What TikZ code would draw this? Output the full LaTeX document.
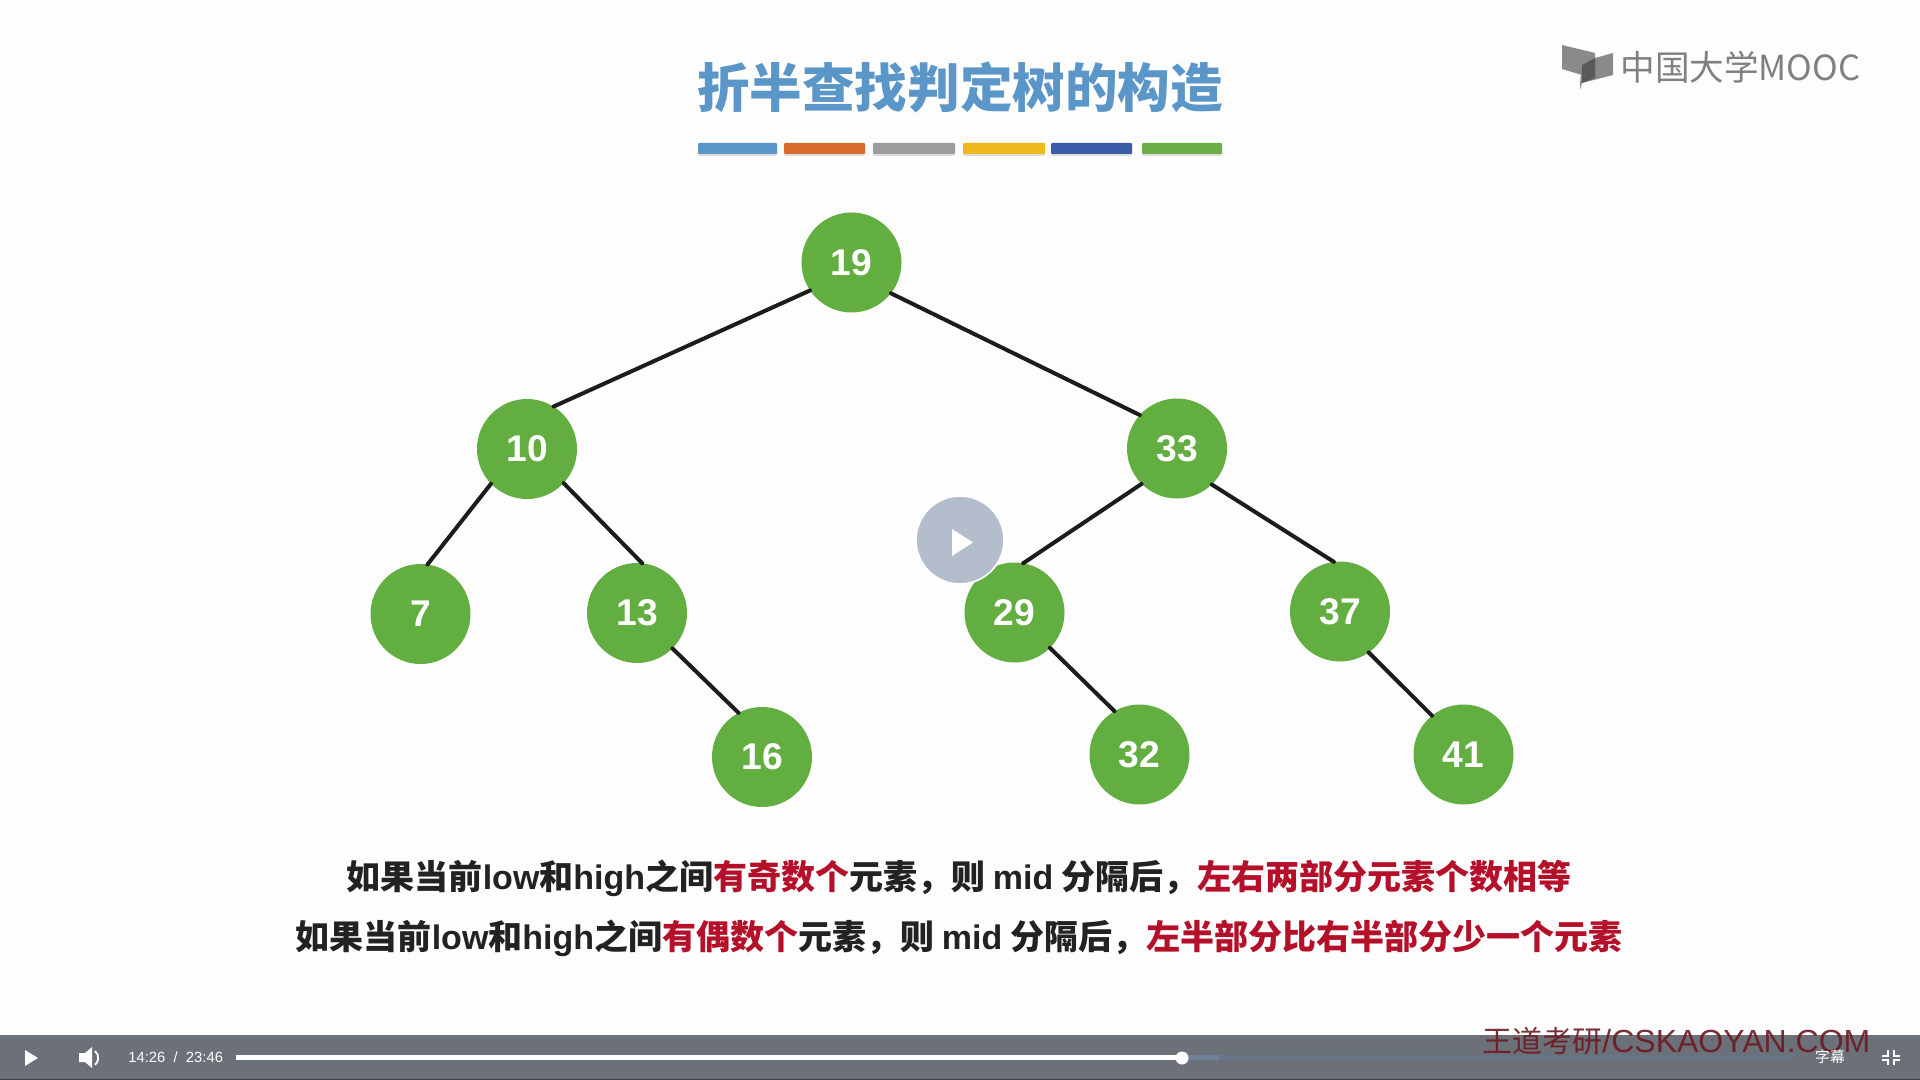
\documentclass[tikz,border=0pt]{standalone}
\usepackage{fontspec}
\setmainfont{Liberation Sans}
\newfontfamily\cjk{Noto Sans CJK SC}
\definecolor{pagebg}{HTML}{FEFDFE}
\definecolor{treegreen}{HTML}{62AE41}
\definecolor{titleblue}{HTML}{5B96C9}
\definecolor{barorange}{HTML}{D86B2C}
\definecolor{bargray}{HTML}{9C9C9C}
\definecolor{baryellow}{HTML}{EEB91A}
\definecolor{bardblue}{HTML}{3A5CA8}
\definecolor{bargreen}{HTML}{6CAE45}
\definecolor{edgeink}{HTML}{1C1C1C}
\definecolor{keyred}{HTML}{B5102A}
\definecolor{textink}{HTML}{222222}
\definecolor{ctrlbar}{HTML}{6B7079}
\definecolor{bufferbar}{HTML}{667488}
\definecolor{bufferbright}{HTML}{71809A}
\definecolor{playdisc}{HTML}{B3BDCB}
\definecolor{logogray}{HTML}{8A8A8A}
\definecolor{markred}{HTML}{6E1A22}
\newcommand{\kred}[1]{\textcolor{keyred}{#1}}
\tikzset{
  x=0.5pt, y=-0.5pt,
  treenode/.style={circle, fill=treegreen, text=white, minimum size=50pt, inner sep=0pt, outer sep=0pt, font=\fontsize{18.6}{20}\selectfont\bfseries},
  treeedge/.style={draw=edgeink, line width=2pt, line cap=round},
  bodyline/.style={inner sep=0pt, text=textink, font=\fontsize{17}{20}\selectfont\bfseries\cjk},
}
\begin{document}
\begin{tikzpicture}
\useasboundingbox (0,0) rectangle (1920,1080);
\fill[pagebg] (0,0) rectangle (1920,1080);

% title
\node[inner sep=0pt, text=titleblue, font=\fontsize{26.3}{30}\selectfont\cjk\bfseries] (title) at (960,87) {折半查找判定树的构造};
\foreach \n/\xa/\xb/\c in {a/698/777/titleblue,b/784/865/barorange,c/873/955/bargray,d/963/1045/baryellow,e/1051/1132/bardblue,f/1142/1222/bargreen}{
  \fill[black!14, rounded corners=0.8pt] (\xa,145) rectangle (\xb,156);
  \fill[\c, rounded corners=0.5pt] (\xa,143) rectangle (\xb,154);
}

% logo
\fill[logogray] (1562,45) -- (1595,53) -- (1595,58) -- (1582,65) -- (1582,75) -- (1562,69) -- cycle;
\fill[logogray] (1595,58) -- (1613,53) -- (1613,75) -- (1582,83) -- (1580,90) -- (1580,83) -- (1582,65) -- cycle;
\fill[black!65] (1582,65) -- (1595,58) -- (1595,78) -- (1582,83) -- cycle;
\node[inner sep=0pt, text=black!50, anchor=west, font=\fontsize{17.3}{20}\selectfont\cjk] (logo) at (1620,67) {中国大学MOOC};

% tree
\node[treenode] (n19) at (851.5,262.5) {19};
\node[treenode] (n10) at (527,449) {10};
\node[treenode] (n33) at (1177,448.5) {33};
\node[treenode] (n7) at (420.5,614) {7};
\node[treenode] (n13) at (637,613) {13};
\node[treenode] (n29) at (1014.5,612.5) {29};
\node[treenode] (n37) at (1340,611.5) {37};
\node[treenode] (n16) at (762,757) {16};
\node[treenode] (n32) at (1139.5,754.5) {32};
\node[treenode] (n41) at (1463.5,754.5) {41};
\draw[treeedge] (n19.214) -- (n10.58);
\draw[treeedge] (n19.-38) -- (n33.138);
\draw[treeedge] (n10.224) -- (n7.82);
\draw[treeedge] (n10.-43) -- (n13.84);
\draw[treeedge] (n33.225) -- (n29.80);
\draw[treeedge] (n33.-46) -- (n37.97);
\draw[treeedge] (n13.-45) -- (n16.118);
\draw[treeedge] (n29.-45) -- (n32.120);
\draw[treeedge] (n37.-55) -- (n41.129);

% body text
\node[bodyline] (line1) at (959,878) {如果当前{\rmfamily low}和{\rmfamily high}之间\kred{有奇数个}元素，则 {\rmfamily mid} 分隔后，\kred{左右两部分元素个数相等}};
\node[bodyline] (line2) at (959,938) {如果当前{\rmfamily low}和{\rmfamily high}之间\kred{有偶数个}元素，则 {\rmfamily mid} 分隔后，\kred{左半部分比右半部分少一个元素}};

% play overlay
\node[circle, fill=playdisc, draw=white, line width=0.8pt, minimum size=44pt, inner sep=0pt, outer sep=0pt] (playbtn) at (960,540) {};
\fill[white] (952,529) -- (973,542.5) -- (952,556) -- cycle;

% control bar
\fill[ctrlbar] (0,1035) rectangle (1920,1079);
\fill[black!75] (0,1079) rectangle (1920,1080);
\fill[white] (25,1050) -- (38,1058) -- (25,1066) -- cycle;
\fill[white] (79,1053) -- (85,1053) -- (92,1047) -- (92,1068) -- (85,1062) -- (79,1062) -- cycle;
\draw[white, line width=0.9pt] (95,1051) arc[start angle=-50, end angle=50, radius=9];
\node[inner sep=0pt, text=white, anchor=west, font=\fontsize{7.4}{9}\selectfont] (timecode) at (128,1057.5) {14:26\ \ /\ \ 23:46};
\fill[bufferbar] (1182,1055) rectangle (1793,1060);
\fill[bufferbright] (1182,1055) rectangle (1219,1060);
\fill[white] (236,1055) rectangle (1182,1060);
\fill[white] (1182,1058) circle[radius=6.5];
\node[inner sep=0pt, anchor=west, text=markred, opacity=0.9, font=\fontsize{15}{16}\selectfont\cjk] (mark) at (1482,1041.5) {王道考研{\fontsize{16}{16}\selectfont\rmfamily/CSKAOYAN.COM}};
\node[inner sep=0pt, text=white, font=\fontsize{7.4}{9}\selectfont\cjk] (subs) at (1830,1057) {字幕};
% exit fullscreen icon
\fill[white] (1887,1050) rectangle (1889,1056);
\fill[white] (1882,1054.5) rectangle (1889,1056.5);
\fill[white] (1893,1050) rectangle (1895,1056);
\fill[white] (1893,1054.5) rectangle (1900,1056.5);
\fill[white] (1887,1059) rectangle (1889,1065);
\fill[white] (1882,1059) rectangle (1889,1061);
\fill[white] (1893,1059) rectangle (1895,1065);
\fill[white] (1893,1059) rectangle (1900,1061);
\end{tikzpicture}
\end{document}
